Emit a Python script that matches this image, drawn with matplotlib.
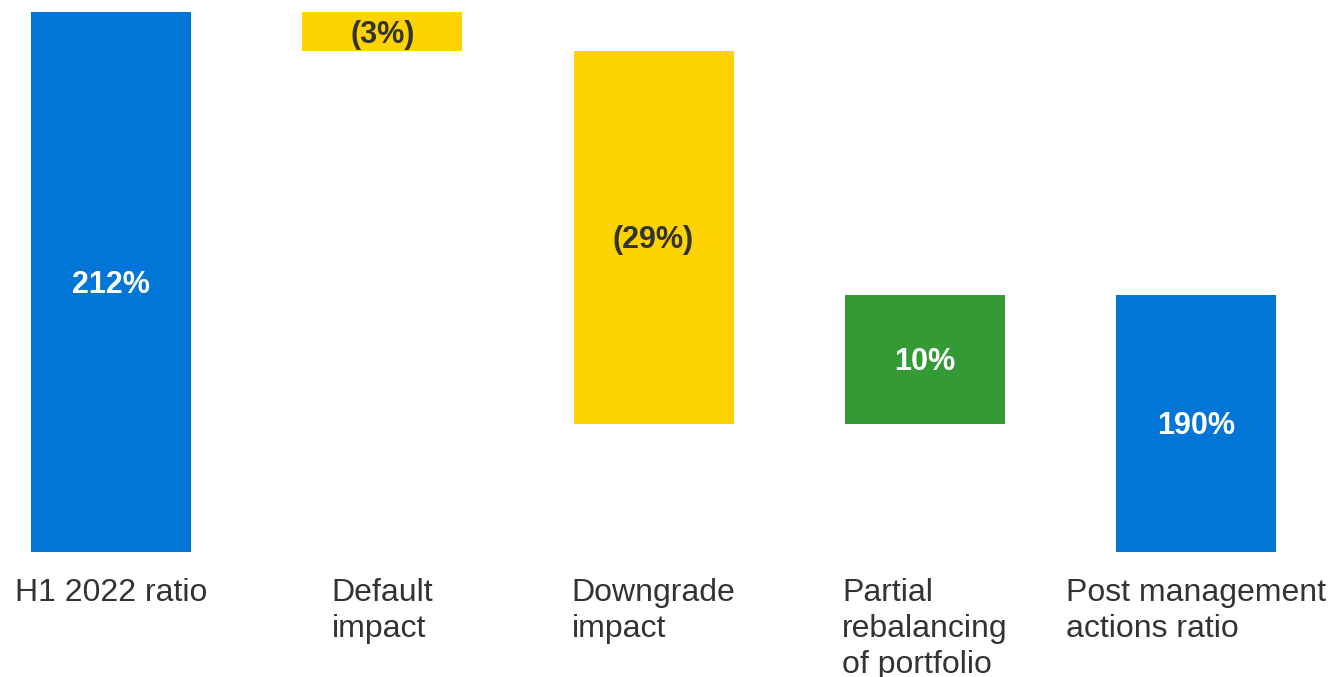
import matplotlib
matplotlib.use("Agg")
import matplotlib.pyplot as plt
from matplotlib import font_manager as fm

plt.rcParams["font.family"] = ["Liberation Sans", "DejaVu Sans"]

# Waterfall of solvency ratio movements (percentage points)
categories = ["H1 2022 ratio", "Default\nimpact", "Downgrade\nimpact",
              "Partial\nrebalancing\nof portfolio", "Post management\nactions ratio"]
start_value = 212
changes = [-3, -29, 10]
end_value = 190
value_labels = ["212%", "(3%)", "(29%)", "10%", "190%"]

BLUE = "#0176D6"
YELLOW = "#FDD400"
GREEN = "#349A35"
DARK = "#333333"

# Regular-width bold face for the value labels
bold_file = None
for f in fm.findSystemFonts():
    if f.endswith("LiberationSans-Bold.ttf"):
        bold_file = f
        break
if bold_file:
    bold_prop = fm.FontProperties(fname=bold_file, size=22)
else:
    bold_prop = fm.FontProperties(family="Liberation Sans", weight="bold", size=22)

# Build bar bottoms/heights from the running total
bottoms, heights, colors, text_colors = [0], [start_value], [BLUE], ["white"]
running = start_value
for c in changes:
    new = running + c
    bottoms.append(min(running, new))
    heights.append(abs(c))
    colors.append(GREEN if c > 0 else YELLOW)
    text_colors.append("white" if c > 0 else DARK)
    running = new
bottoms.append(0)
heights.append(end_value)
colors.append(BLUE)
text_colors.append("white")

W, H = 1332, 677
fig = plt.figure(figsize=(W / 100, H / 100), dpi=100)
base_px = 552
ax = fig.add_axes([0, 1 - base_px / H, 1, base_px / H])

px_per_unit = 12.85
y_min = 170
ax.set_ylim(y_min, y_min + base_px / px_per_unit)
spacing = 271.25
ax.set_xlim(-111 / spacing, (W - 111) / spacing)

x = list(range(len(categories)))
ax.bar(x, heights, bottom=bottoms, width=160 / spacing, color=colors, linewidth=0)

for xi, b, h, lab, tc in zip(x, bottoms, heights, value_labels, text_colors):
    lo = max(b, y_min)
    ax.annotate(lab, xy=(xi, (lo + b + h) / 2), xytext=(0, -3),
                textcoords="offset pixels", ha="center", va="center",
                fontproperties=bold_prop, color=tc)

for xi, cat in zip(x, categories):
    ax.annotate(cat, xy=(xi, y_min), xytext=(0, -26), textcoords="offset pixels",
                ha="center", va="top", multialignment="left",
                fontsize=23, color=DARK, linespacing=1.27, annotation_clip=False)

ax.axis("off")
fig.savefig("out.png", dpi=100)
